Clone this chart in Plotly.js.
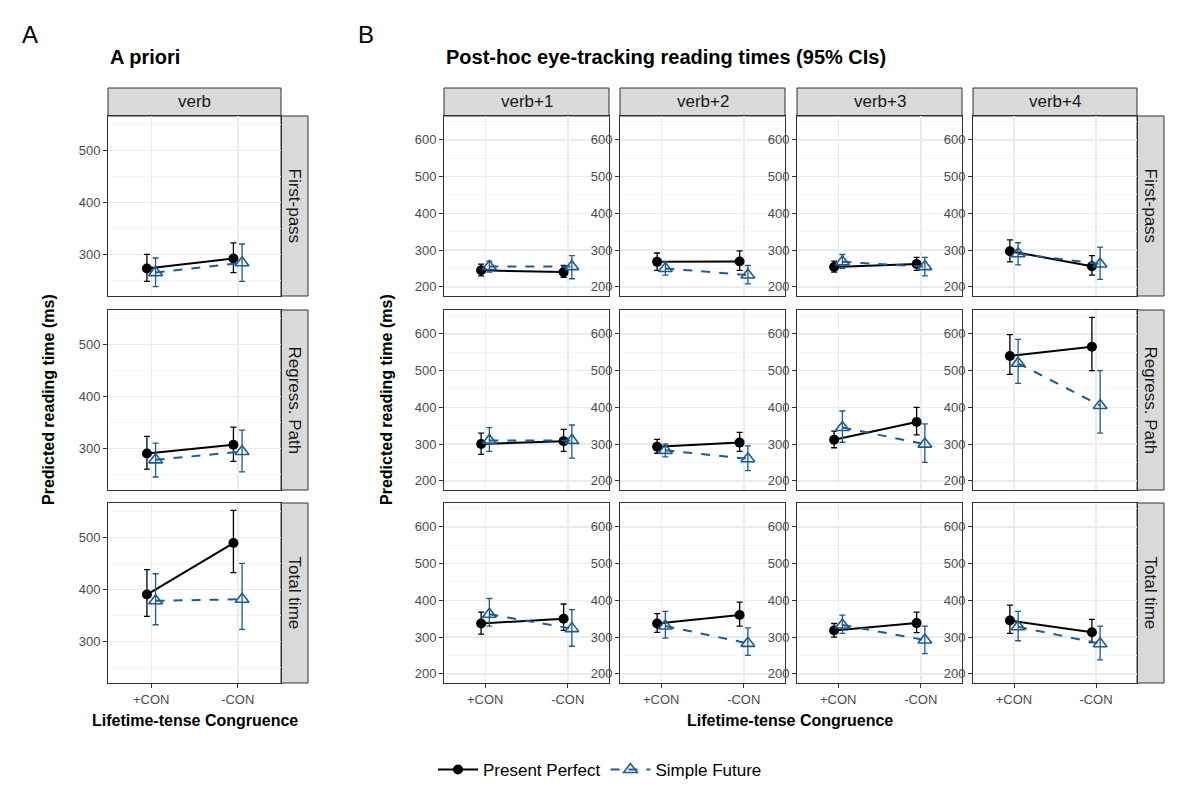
<!DOCTYPE html>
<html>
<head>
<meta charset="utf-8">
<script src="https://cdn.plot.ly/plotly-3.0.1.min.js"></script>
<style>body{margin:0;background:#fff}#plot{width:1200px;height:800px}</style>
</head>
<body>
<div id="plot"></div>
<script>
// facets and conditions
const regions = ["verb", "verb+1", "verb+2", "verb+3", "verb+4"];
const measures = ["First-pass", "Regress. Path", "Total time"];
const conditions = ["+CON", "-CON"];

// Present Perfect: [measure][region] = [+CON, -CON]
const ppMean = [
  [[273, 292], [245, 240], [268, 269], [254, 262], [297, 256]],
  [[290, 307], [300, 308], [293, 304], [312, 360], [540, 565]],
  [[390, 489], [337, 350], [337, 360], [318, 338], [345, 313]]
];
const ppLo = [
  [[248, 265], [230, 226], [245, 245], [240, 245], [268, 232]],
  [[260, 275], [272, 280], [275, 280], [290, 325], [490, 500]],
  [[348, 432], [308, 318], [313, 330], [300, 312], [310, 285]]
];
const ppHi = [
  [[300, 322], [262, 258], [292, 298], [270, 280], [328, 285]],
  [[323, 341], [330, 340], [313, 332], [335, 400], [598, 645]],
  [[438, 552], [368, 390], [364, 395], [337, 368], [387, 348]]
];

// Simple Future
const sfMean = [
  [[265, 284], [255, 255], [250, 232], [268, 255], [290, 262]],
  [[278, 294], [310, 310], [283, 260], [345, 300], [520, 405]],
  [[378, 381], [362, 323], [330, 283], [333, 292], [328, 282]]
];
const sfLo = [
  [[238, 248], [240, 222], [232, 208], [250, 230], [260, 220]],
  [[245, 255], [280, 262], [265, 228], [305, 250], [465, 330]],
  [[332, 323], [330, 275], [297, 250], [310, 255], [290, 238]]
];
const sfHi = [
  [[293, 320], [270, 285], [268, 258], [288, 280], [320, 308]],
  [[310, 335], [345, 352], [300, 295], [390, 355], [585, 500]],
  [[430, 450], [405, 375], [370, 325], [360, 330], [370, 330]]
];

const W = 1200, H = 800;
const colPx = [[108, 281], [444, 609], [620, 785], [797, 962], [973, 1137]];
const rowPx = [[116, 296], [310, 490], [503, 683]];
const px = v => v / W, py = v => 1 - v / H;
const BLUE = "#1d5b94";
const dodge = 0.05;

const data = [];
const layout = {
  width: W, height: H,
  margin: {l: 0, r: 0, t: 0, b: 0},
  paper_bgcolor: "#fff", plot_bgcolor: "#fff",
  font: {family: "Liberation Sans, Arial, sans-serif", color: "#000"},
  showlegend: true,
  legend: {orientation: "h", x: 0.5, xanchor: "center", y: py(770), yanchor: "middle",
    font: {size: 17}, itemwidth: 40},
  shapes: [], annotations: []
};

let n = 0;
measures.forEach((m, r) => {
  regions.forEach((reg, c) => {
    n++;
    const xa = "x" + n, ya = "y" + n;
    const key = n === 1 ? "" : n;
    const isA = c === 0;
    layout["xaxis" + key] = {
      domain: [px(colPx[c][0]), px(colPx[c][1])], anchor: ya,
      range: [0.5, 2.5], tickvals: [1, 2], ticktext: conditions,
      showticklabels: r === 2, ticks: r === 2 ? "outside" : "", ticklen: 4, tickcolor: "#333",
      tickfont: {size: 13, color: "#4d4d4d"},
      showgrid: true, gridcolor: "#ebebeb", gridwidth: 1.5,
      showline: true, mirror: true, linecolor: "#333", linewidth: 1, zeroline: false, fixedrange: true
    };
    layout["yaxis" + key] = {
      domain: [py(rowPx[r][1]), py(rowPx[r][0])], anchor: xa,
      range: isA ? [220, 566] : [175, 665],
      tickvals: isA ? [300, 400, 500] : [200, 300, 400, 500, 600],
      ticks: "outside", ticklen: 4, tickcolor: "#333",
      tickfont: {size: 13, color: "#4d4d4d"},
      showgrid: true, gridcolor: "#ebebeb", gridwidth: 1.5,
      minor: {dtick: 50, tick0: 0, showgrid: true, gridcolor: "#f5f5f5", gridwidth: 1},
      showline: true, mirror: true, linecolor: "#333", linewidth: 1, zeroline: false, fixedrange: true
    };
    const pm = ppMean[r][c], sm = sfMean[r][c];
    data.push({
      type: "scatter", mode: "lines+markers", xaxis: xa, yaxis: ya,
      x: [1 - dodge, 2 - dodge], y: pm, name: "Present Perfect",
      legendgroup: "pp", showlegend: n === 1,
      line: {color: "#000", width: 2}, marker: {symbol: "circle", size: 10, color: "#000"},
      error_y: {type: "data", symmetric: false,
        array: pm.map((v, i) => ppHi[r][c][i] - v), arrayminus: pm.map((v, i) => v - ppLo[r][c][i]),
        color: "#000", thickness: 1.3, width: 3}
    });
    data.push({
      type: "scatter", mode: "lines+markers", xaxis: xa, yaxis: ya,
      x: [1 + dodge, 2 + dodge], y: sm, name: "Simple Future",
      legendgroup: "sf", showlegend: n === 1,
      line: {color: BLUE, width: 2, dash: "dash"},
      marker: {symbol: "triangle-up-open", size: 12, color: BLUE, line: {width: 1.6, color: BLUE}},
      error_y: {type: "data", symmetric: false,
        array: sm.map((v, i) => sfHi[r][c][i] - v), arrayminus: sm.map((v, i) => v - sfLo[r][c][i]),
        color: BLUE, thickness: 1.3, width: 3}
    });
  });
});

// text helper with explicit centre anchors
const ann = (x, y, text, size, extra) => layout.annotations.push(Object.assign({
  xref: "paper", yref: "paper", x: px(x), y: py(y), text: text, showarrow: false,
  xanchor: "center", yanchor: "middle",
  font: {size: size, color: "#000"}}, extra || {}));

// strips
const stripStyle = {fillcolor: "#d9d9d9", line: {color: "#333", width: 1}, layer: "below"};
colPx.forEach((cp, c) => {
  layout.shapes.push(Object.assign({type: "rect", xref: "paper", yref: "paper",
    x0: px(cp[0]), x1: px(cp[1]), y0: py(116), y1: py(88)}, stripStyle));
  ann((cp[0] + cp[1]) / 2, 102, regions[c], 17, {font: {size: 17, color: "#1a1a1a"}});
});
[281, 1137].forEach(x0 => {
  rowPx.forEach((rp, r) => {
    layout.shapes.push(Object.assign({type: "rect", xref: "paper", yref: "paper",
      x0: px(x0), x1: px(x0 + 27), y0: py(rp[1]), y1: py(rp[0])}, stripStyle));
    ann(x0 + 13.5, (rp[0] + rp[1]) / 2, measures[r], 17,
      {textangle: 90, font: {size: 17, color: "#1a1a1a"}});
  });
});

// titles
ann(30, 35, "A", 24);
ann(366, 35, "B", 24);
ann(108, 57, "<b>A priori</b>", 20, {xanchor: "left"});
ann(444, 57, "<b>Post-hoc eye-tracking reading times (95% CIs)</b>", 20, {xanchor: "left"});
ann(48, 400, "<b>Predicted reading time (ms)</b>", 16, {textangle: -90});
ann(386, 400, "<b>Predicted reading time (ms)</b>", 16, {textangle: -90});
ann(195, 720, "<b>Lifetime-tense Congruence</b>", 16);
ann(790, 720, "<b>Lifetime-tense Congruence</b>", 16);

Plotly.newPlot("plot", data, layout, {staticPlot: true});
</script>
</body>
</html>
